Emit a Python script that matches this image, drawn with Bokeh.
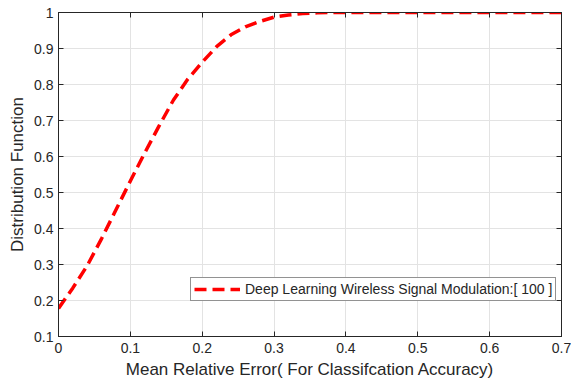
from bokeh.plotting import figure
from bokeh.models import LinearAxis, Range1d, FixedTicker, Legend, LegendItem
from bokeh.embed import file_html
from bokeh.resources import INLINE

# Empirical distribution of the mean relative error
error = [0.0, 0.02, 0.04, 0.06, 0.08, 0.10, 0.12, 0.14, 0.16, 0.18, 0.20,
         0.22, 0.24, 0.26, 0.28, 0.30, 0.32, 0.34, 0.36, 0.38, 0.40,
         0.45, 0.50, 0.55, 0.60, 0.65, 0.70]
cdf = [0.178, 0.235, 0.297, 0.372, 0.452, 0.532, 0.610, 0.685, 0.757, 0.815, 0.862,
       0.905, 0.938, 0.960, 0.975, 0.987, 0.993, 0.997, 0.999, 1.0, 1.0,
       1.0, 1.0, 1.0, 1.0, 1.0, 1.0]

x_ticks = [0, 0.1, 0.2, 0.3, 0.4, 0.5, 0.6, 0.7]
y_ticks = [0.1, 0.2, 0.3, 0.4, 0.5, 0.6, 0.7, 0.8, 0.9, 1.0]
series_name = "Deep Learning Wireless Signal Modulation:[ 100 ]"

FONT = "Liberation Sans"
AX_COLOR = "#262626"
TXT_COLOR = "#262626"

p = figure(width=571, height=381, output_backend="svg", toolbar_location=None,
           x_range=Range1d(0, 0.7), y_range=Range1d(0.1, 1.0),
           min_border_left=58, min_border_right=10, min_border_top=12, min_border_bottom=43,
           x_axis_label="Mean Relative Error( For Classifcation Accuracy)",
           y_axis_label="Distribution Function")
p.background_fill_color = "white"
p.border_fill_color = "white"
p.outline_line_color = AX_COLOR
p.outline_line_width = 1

for ax in (p.xaxis[0], p.yaxis[0]):
    ax.axis_line_color = AX_COLOR
    ax.major_tick_line_color = AX_COLOR
    ax.major_tick_in = 5
    ax.major_tick_out = 0
    ax.minor_tick_line_color = None
    ax.major_label_text_font = FONT
    ax.major_label_text_font_size = "14px"
    ax.major_label_text_color = TXT_COLOR
    ax.axis_label_text_font = FONT
    ax.axis_label_text_font_size = "17px"
    ax.axis_label_text_font_style = "normal"
    ax.axis_label_text_color = TXT_COLOR
p.xaxis[0].ticker = FixedTicker(ticks=x_ticks)
p.yaxis[0].ticker = FixedTicker(ticks=y_ticks)
p.xaxis[0].major_label_standoff = 6
p.yaxis[0].major_label_standoff = 5
p.xaxis[0].axis_label_standoff = 4
p.yaxis[0].axis_label_standoff = 4

# tick marks on the opposite sides of the box, without labels
for side, tks in (("right", y_ticks), ("above", x_ticks)):
    a = LinearAxis(ticker=FixedTicker(ticks=tks),
                   major_label_overrides={t: "" for t in tks},
                   major_label_text_color=None,
                   axis_line_color=AX_COLOR, major_tick_line_color=AX_COLOR,
                   major_tick_in=5, major_tick_out=0, minor_tick_line_color=None,
                   major_label_standoff=0)
    p.add_layout(a, side)

p.xgrid.ticker = FixedTicker(ticks=x_ticks)
p.ygrid.ticker = FixedTicker(ticks=y_ticks)
p.grid.grid_line_color = "#e3e3e3"
p.grid.grid_line_width = 1

r = p.line(error, cdf, line_color="#ff0000", line_width=3.5, line_dash="12 6")

legend = Legend(items=[LegendItem(label=series_name, renderers=[r])],
                location=(132, 35))
legend.label_text_font = FONT
legend.label_text_font_size = "14px"
legend.label_text_color = TXT_COLOR
legend.border_line_color = AX_COLOR
legend.border_line_width = 1
legend.glyph_width = 46
legend.glyph_height = 14
legend.label_standoff = 5
legend.padding = 3
legend.spacing = 0
legend.margin = 0
legend.label_height = 14
p.add_layout(legend, "center")

open("out.html", "w").write(file_html(p, INLINE))
